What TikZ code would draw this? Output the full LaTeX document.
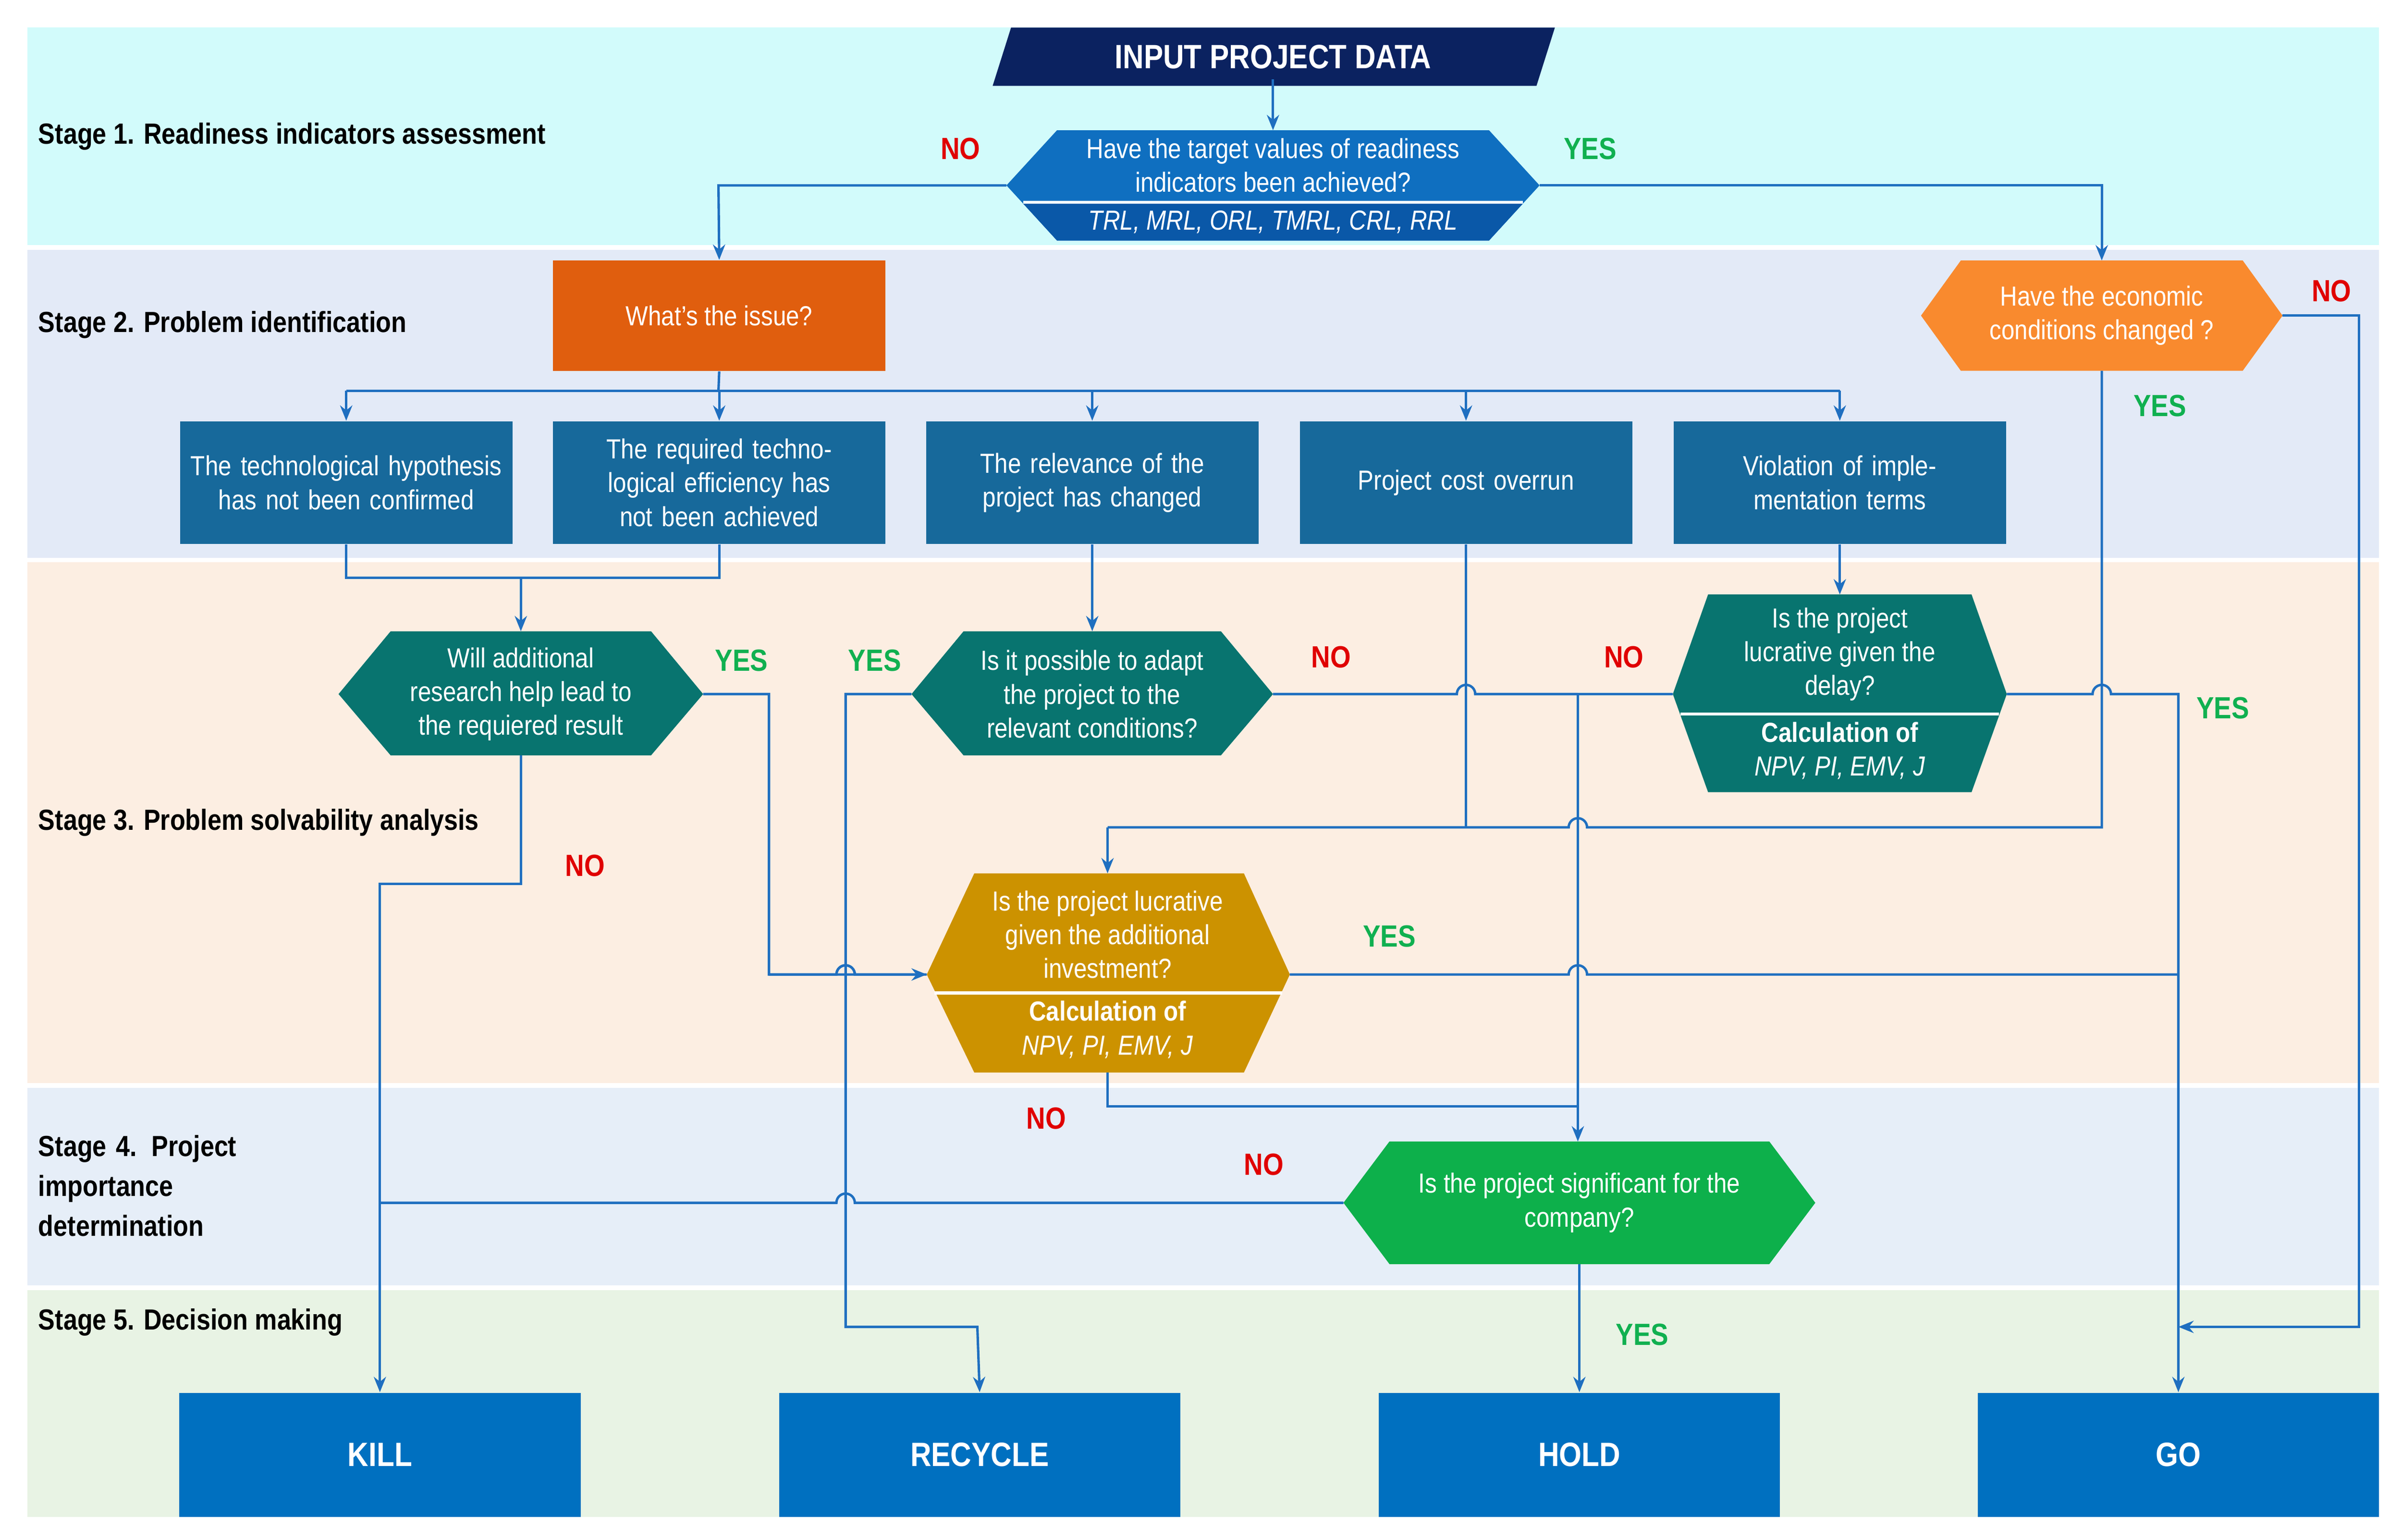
\documentclass[tikz,border=0pt]{standalone}
\usepackage{fontspec}
\setmainfont{Liberation Sans}[FakeStretch=0.86]
\usetikzlibrary{arrows.meta}
\definecolor{bA}{HTML}{D2FBFB}\definecolor{bB}{HTML}{E3EAF7}\definecolor{bC}{HTML}{FCEEE2}
\definecolor{bD}{HTML}{E6EEF8}\definecolor{bE}{HTML}{E8F3E4}
\definecolor{navy}{HTML}{0B2260}\definecolor{qblue}{HTML}{0F6FC0}\definecolor{qblued}{HTML}{0A58A8}
\definecolor{org}{HTML}{E05E0E}\definecolor{org2}{HTML}{F98A2E}\definecolor{tealb}{HTML}{17699B}
\definecolor{teal2}{HTML}{08746F}\definecolor{gold}{HTML}{CC9200}\definecolor{grn}{HTML}{0DB04B}
\definecolor{fin}{HTML}{0070C0}\definecolor{ln}{HTML}{1F6FC0}\definecolor{nored}{HTML}{E00000}\definecolor{yesg}{HTML}{10B050}
\tikzset{
 wt/.style={text=white,font=\fontsize{9}{11}\selectfont,align=center},
 box/.style={wt,fill=tealb,minimum width=108.5pt,minimum height=40pt,text width=104pt,inner sep=0pt},
 fbox/.style={fill=fin,text=white,font=\fontsize{11}{13}\selectfont\bfseries,minimum width=131pt,minimum height=40.5pt},
 ln/.style={draw=ln,line width=0.8pt},
 ar/.style={ln,-{Stealth[length=5pt,width=4pt]}},
 no/.style={text=nored,font=\fontsize{10}{12}\selectfont\bfseries},
 yes/.style={text=yesg,font=\fontsize{10}{12}\selectfont\bfseries},
 st/.style={anchor=west,font=\fontsize{9.5}{13}\selectfont\bfseries,align=left},
}
\begin{document}
\begin{tikzpicture}[x=0.5pt,y=-0.5pt]
\useasboundingbox (0,0) rectangle (1568,1005);
% bands
\fill[bA] (18,18) rectangle (1553,160);
\fill[bB] (18,163) rectangle (1553,364);
\fill[bC] (18,367) rectangle (1553,707);
\fill[bD] (18,710) rectangle (1553,839);
\fill[bE] (18,842) rectangle (1553,990);
\foreach \y in {161.5,365.5,708.5,840.5}\draw[white,line width=1.2pt,dash pattern=on 3pt off 2pt] (18,\y)--(1553,\y);
% stage labels
\node[st] at (18,89) {Stage 1. Readiness indicators assessment};
\node[st] at (18,212) {Stage 2. Problem identification};
\node[st] at (18,537) {Stage 3. Problem solvability analysis};
\node[st,text width=80pt] at (18,774) {Stage 4. Project\\importance\\determination};
\node[st] at (18,863) {Stage 5. Decision making};
% input
\fill[navy] (660,18)--(1015,18)--(1003,56)--(648,56)--cycle;
\node[text=white,font=\fontsize{11}{13}\selectfont\bfseries] (inp) at (831,37) {INPUT PROJECT DATA};
% Q1
\fill[qblue] (690,85)--(972,85)--(1005,121)--(972,157)--(690,157)--(657,121)--cycle;
\fill[qblued] (668,133)--(994,133)--(972,157)--(690,157)--cycle;
\draw[white,line width=1pt] (668,132)--(994,132);
\node[wt] (q1) at (831,108) {Have the target values of readiness\\indicators been achieved?};
\node[wt,font=\fontsize{9}{11}\selectfont\itshape] at (831,145) {TRL, MRL, ORL, TMRL, CRL, RRL};
\coordinate (q1t) at (831,85);\coordinate (q1l) at (657,121);\coordinate (q1r) at (1005,121);
% issue & econ
\node[wt,fill=org,minimum width=108.5pt,minimum height=36pt] (iss) at (469.5,206) {What's the issue?};
\fill[org2] (1280,170)--(1464,170)--(1490,206)--(1464,242)--(1280,242)--(1254,206)--cycle;
\node[wt] (eco) at (1372,206) {Have the economic\\conditions changed ?};
% boxes
\node[box] (b1) at (226,315) {The technological hypothesis has not been confirmed};
\node[box] (b2) at (469.5,315) {The required technological efficiency has not been achieved};
\node[box] (b3) at (713,315) {The relevance of the project has changed};
\node[box] (b4) at (957,315) {Project cost overrun};
\node[box] (b5) at (1201,315) {Violation of implementation terms};
% Q2, Q3
\fill[teal2] (255,412)--(425,412)--(459,453)--(425,493)--(255,493)--(221,453)--cycle;
\node[wt] (q2) at (340,453) {Will additional\\research help lead to\\the requiered result};
\fill[teal2] (629,412)--(797,412)--(831,453)--(797,493)--(629,493)--(595,453)--cycle;
\node[wt] (q3) at (713,453) {Is it possible to adapt\\the project to the\\relevant conditions?};
% Q5
\fill[teal2] (1115,388)--(1287,388)--(1310,453)--(1287,517)--(1115,517)--(1092,453)--cycle;
\draw[white,line width=1pt] (1097,466)--(1305,466);
\node[wt] (q5) at (1201,427) {Is the project\\lucrative given the\\delay?};
\node[wt] at (1201,490) {\textbf{Calculation of}\\\textit{NPV, PI, EMV, J}};
% Q4
\fill[gold] (636,570)--(812,570)--(842,636)--(812,700)--(636,700)--(605,636)--cycle;
\draw[white,line width=1pt] (610,648)--(837,648);
\node[wt] (q4) at (723,610) {Is the project lucrative\\given the additional\\investment?};
\node[wt] at (723,672) {\textbf{Calculation of}\\\textit{NPV, PI, EMV, J}};
% Q6
\fill[grn] (907,745)--(1155,745)--(1185,785)--(1155,825)--(907,825)--(877,785)--cycle;
\node[wt] (q6) at (1031,785) {Is the project significant for the\\company?};
% finals
\node[fbox] (kill) at (248,949.5) {KILL};
\node[fbox] (rec) at (639.5,949.5) {RECYCLE};
\node[fbox] (hold) at (1031,949.5) {HOLD};
\node[fbox] (go) at (1422,949.5) {GO};
% connectors
\draw[ar] (inp.south)--(q1t);
\draw[ar] (q1l)--(469,121)--(iss.north);
\draw[ar] (q1r)--(1372,121)--(1372,170);
\draw[ln] (iss.south)--(469,255);
\draw[ln] (226,255)--(1201,255);
\foreach \b/\x in {b1/226,b2/469.5,b3/713,b4/957,b5/1201}\draw[ar] (\x,255)--(\b.north);
\draw[ln] (b1.south)--(226,377)--(469.5,377)--(b2.south);
\draw[ar] (340,377)--(340,412);
\draw[ar] (b3.south)--(713,412);
\draw[ar] (b5.south)--(1201,388);
% econ
\draw[ar] (1490,206)--(1540,206)--(1540,866)--(1422,866);
\draw[ln] (1372,242)--(1372,540)--(1036,540) arc (0:-180:6)--(723,540);
\draw[ar] (723,540)--(723,570);
\draw[ln] (b4.south)--(957,540);
% Q2
\draw[ar] (459,453)--(502,453)--(502,636)--(558,636) arc (0:-180:6) -- (605,636);
\draw[ln] (502,636)--(546,636) arc (180:360:6)--(605,636);
\draw[ar] (340,493)--(340,577)--(248,577)--(kill.north);
% Q3
\draw[ar] (595,453)--(552,453)--(552,866)--(638,866)--(rec.north);
\draw[ln] (831,453)--(951,453) arc (180:360:6)--(1030,453);
\draw[ar] (1030,453)--(1030,745);
\draw[ln] (1092,453)--(1030,453);
% Q5 yes
\draw[ar] (1310,453)--(1366,453) arc (180:360:6)--(1422,453)--(go.north);
% Q4
\draw[ln] (842,636)--(1024,636) arc (180:360:6)--(1422,636);
\draw[ln] (723,700)--(723,722)--(1030,722);
% Q6
\draw[ln] (877,785)--(558,785) arc (0:-180:6)--(248,785);
\draw[ar] (q6.south|-0,825)--(hold.north);
% labels
\node[no] at (627,97) {NO};\node[yes] at (1038,97) {YES};
\node[no] at (1522,190) {NO};\node[yes] at (1410,265) {YES};
\node[yes] at (484,431) {YES};\node[no] at (382,565) {NO};
\node[yes] at (571,431) {YES};\node[no] at (869,429) {NO};
\node[no] at (1060,429) {NO};\node[yes] at (1451,462) {YES};
\node[yes] at (907,611) {YES};\node[no] at (683,730) {NO};
\node[no] at (825,760) {NO};\node[yes] at (1072,871) {YES};
\end{tikzpicture}
\end{document}
